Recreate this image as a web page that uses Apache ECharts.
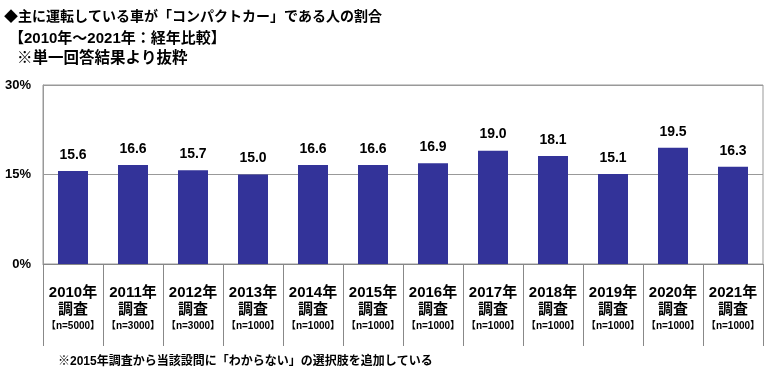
<!DOCTYPE html>
<html>
<head>
<meta charset="utf-8">
<script src="https://cdn.jsdelivr.net/npm/echarts@6/dist/echarts.min.js"></script>
<style>
html,body{margin:0;padding:0;background:#fff;}
#chart{width:770px;height:374px;}
</style>
</head>
<body>
<div id="chart"></div>
<script>
const years = ['2010年','2011年','2012年','2013年','2014年','2015年','2016年','2017年','2018年','2019年','2020年','2021年'];
const samples = ['【n=5000】','【n=3000】','【n=3000】','【n=1000】','【n=1000】','【n=1000】','【n=1000】','【n=1000】','【n=1000】','【n=1000】','【n=1000】','【n=1000】'];
const values = [15.6, 16.6, 15.7, 15.0, 16.6, 16.6, 16.9, 19.0, 18.1, 15.1, 19.5, 16.3];
const yTicks = [0, 15, 30];
const titleLines = ['◆主に運転している車が「コンパクトカー」である人の割合', '【2010年～2021年：経年比較】', '※単一回答結果より抜粋'];
const footnote = '※2015年調査から当該設問に「わからない」の選択肢を追加している';

const FONT = "'Liberation Sans', 'Noto Sans CJK JP', sans-serif";
const chart = echarts.init(document.getElementById('chart'), null, {renderer: 'canvas'});
const categories = years.map((y, i) => y + '\n調査\n' + samples[i]);

chart.setOption({
  animation: false,
  backgroundColor: '#ffffff',
  textStyle: {fontFamily: FONT},
  graphic: [
    {type: 'text', left: 4, top: 10, style: {text: titleLines[0], font: "bold 14px " + FONT, fill: '#000'}},
    {type: 'text', left: 9, top: 31, style: {text: titleLines[1], font: "bold 15px " + FONT, fill: '#000'}},
    {type: 'text', left: 17, top: 51, style: {text: titleLines[2], font: "bold 15.5px " + FONT, fill: '#000'}},
    {type: 'text', left: 58, top: 356, style: {text: footnote, font: "bold 12px " + FONT, fill: '#000'}}
  ],
  grid: {left: 43, right: 7, top: 85, bottom: 110, show: true, borderColor: '#999', borderWidth: 1},
  xAxis: {
    type: 'category',
    data: categories,
    axisLine: {show: true, lineStyle: {color: '#888', width: 1}},
    axisTick: {show: true, interval: 0, length: 82, lineStyle: {color: '#888'}},
    axisLabel: {
      interval: 0,
      margin: 20,
      formatter: function (v) {
        const p = v.split('\n');
        return '{a|' + p[0] + '}\n{b|' + p[1] + '}\n{c|' + p[2] + '}';
      },
      rich: {
        a: {fontSize: 15, fontWeight: 'bold', color: '#000', lineHeight: 17, fontFamily: FONT},
        b: {fontSize: 15, fontWeight: 'bold', color: '#000', lineHeight: 17, fontFamily: FONT},
        c: {fontSize: 10, fontWeight: 'bold', color: '#000', lineHeight: 17, fontFamily: FONT}
      }
    }
  },
  yAxis: {
    type: 'value',
    min: yTicks[0],
    max: yTicks[yTicks.length - 1],
    interval: yTicks[1] - yTicks[0],
    axisLine: {show: true, lineStyle: {color: '#999'}},
    axisTick: {show: false},
    splitLine: {show: true, lineStyle: {color: '#999', width: 1}},
    axisLabel: {margin: 12, formatter: '{value}%', fontSize: 13, fontWeight: 'bold', color: '#000', fontFamily: FONT}
  },
  series: [{
    type: 'bar',
    data: values,
    barWidth: 30,
    itemStyle: {color: '#333399'},
    label: {
      show: true,
      position: 'top',
      distance: 9,
      fontSize: 14,
      fontWeight: 'bold',
      color: '#000',
      fontFamily: FONT,
      formatter: p => p.value.toFixed(1)
    }
  }]
});
</script>
</body>
</html>
